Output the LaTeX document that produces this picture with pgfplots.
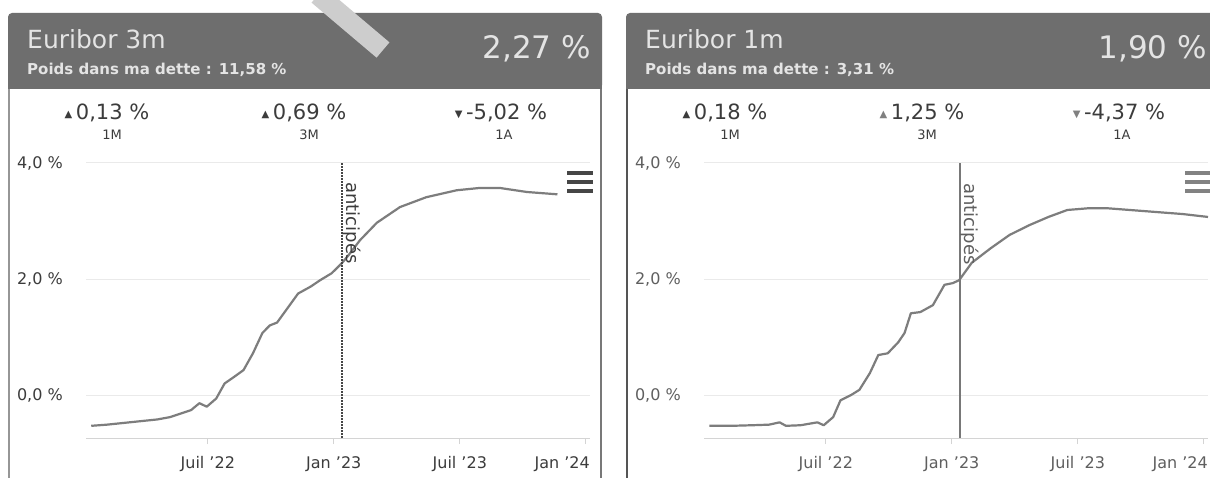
\documentclass[border=0pt]{standalone}
\usepackage{fontspec}
\setmainfont{DejaVu Sans}
\usepackage{pgfplots}
\usepackage{pgfplotstable}
\pgfplotsset{compat=1.18}

\definecolor{hdr}{RGB}{110,110,110}
\definecolor{hdrtxt}{RGB}{228,228,228}
\definecolor{curve}{RGB}{125,125,125}
\definecolor{gridc}{RGB}{234,234,234}
\definecolor{axisc}{RGB}{212,212,212}
\definecolor{txt}{RGB}{60,60,60}
\definecolor{txtb}{RGB}{95,95,95}

\newcommand{\fs}[1]{\fontsize{#1}{#1}\selectfont}

% Euribor 3m, months since 1 Jan 2022
\pgfplotstableread{
m v
0.45 -0.53
1.2 -0.51
2.0 -0.48
2.8 -0.45
3.6 -0.42
4.2 -0.38
4.7 -0.32
5.2 -0.26
5.6 -0.14
5.95 -0.20
6.4 -0.06
6.8 0.20
7.2 0.30
7.7 0.43
8.15 0.72
8.6 1.07
8.95 1.20
9.3 1.25
9.8 1.50
10.3 1.75
10.9 1.87
11.35 1.98
11.9 2.10
12.4 2.28
12.7 2.41
13.25 2.67
14.05 2.97
15.15 3.24
16.4 3.41
17.85 3.53
18.95 3.57
19.9 3.57
21.2 3.50
22.65 3.46
}\eurtrois

% Euribor 1m
\pgfplotstableread{
m v
0.45 -0.53
1.5 -0.53
2.5 -0.52
3.3 -0.51
3.8 -0.47
4.1 -0.53
4.8 -0.52
5.6 -0.47
5.9 -0.52
6.35 -0.38
6.7 -0.09
7.2 0.00
7.6 0.09
8.1 0.38
8.5 0.69
8.95 0.72
9.45 0.91
9.75 1.07
10.05 1.41
10.5 1.43
11.1 1.55
11.65 1.90
12.05 1.93
12.35 1.98
12.95 2.28
13.85 2.53
14.75 2.76
15.7 2.93
16.6 3.07
17.5 3.19
18.5 3.22
19.4 3.22
21.2 3.17
23.0 3.12
24.2 3.07
}\eurun

\pgfplotsset{eur/.style={
  scale only axis, width=504pt, height=275pt, anchor=south west,
  xmin=0.2, xmax=24.2, ymin=-0.74, ymax=4,
  axis x line*=bottom, axis y line*=left,
  x axis line style={draw=axisc, line width=1pt},
  y axis line style={draw=none},
  ymajorgrids, grid style={draw=gridc, line width=1pt},
  ytick={0,2,4}, yticklabels={{0,0 \%},{2,0 \%},{4,0 \%}},
  xtick={6,12,18,24},
  xticklabels={{Juil '22},{Jan '23},{Juil '23},{\makebox[0pt][r]{Jan '24\kern-4pt}}},
  ytick style={draw=none},
  xtick style={draw=axisc, line width=1pt},
  tick align=outside, major tick length=6pt,
  ticklabel style={font=\fs{16}, inner sep=0pt},
  yticklabel style={anchor=east, xshift=-17pt},
  xticklabel style={anchor=north, yshift=-12pt},
  clip=true,
}}

\begin{document}
\begin{tikzpicture}
\useasboundingbox (0pt,0pt) rectangle (1210pt,477pt);
\clip (0pt,0pt) rectangle (1210pt,477pt);
\begin{scope}[x=1pt,y=1pt]
\fill[white] (0,0) rectangle (1210,477);
% cards
\draw[line width=1.5pt, color={rgb,255:red,150;green,150;blue,150}] (9,390) -- (9,-5);
\draw[line width=1.5pt, color={rgb,255:red,120;green,120;blue,120}] (601,390) -- (601,-5);
\draw[line width=2pt, color={rgb,255:red,85;green,85;blue,85}] (627,390) -- (627,-5);
\fill[hdr, rounded corners=4pt] (8,464) rectangle (602,388);
\fill[hdr] (8,400) rectangle (602,388);
\fill[hdr, rounded corners=4pt] (626,464) rectangle (1222,388);
\fill[hdr] (626,400) rectangle (1222,388);
% scan stroke
\draw[line width=20pt, color={rgb,255:red,205;green,205;blue,205}] (318,482) -- (383,427);
\end{scope}

% left chart
\begin{axis}[eur, at={(86pt,39pt)}, ticklabel style={text=txt}]
\addplot[curve, line width=2.2pt, line join=round] table[x=m, y=v] {\eurtrois};
\draw[color={rgb,255:red,70;green,70;blue,70}, line width=2pt, dash pattern=on 2pt off 1pt] (axis cs:12.4,-0.74) -- (axis cs:12.4,4);
\node[rotate=-90, anchor=south west, inner sep=0pt, font=\fs{18}, text=txt, xshift=3pt] at (axis cs:12.4,3.72) {anticipés};
\end{axis}

% right chart
\begin{axis}[eur, at={(704pt,39pt)}, ticklabel style={text=txtb}]
\addplot[curve, line width=2.2pt, line join=round] table[x=m, y=v] {\eurun};
\draw[color={rgb,255:red,120;green,120;blue,120}, line width=1.5pt] (axis cs:12.4,-0.74) -- (axis cs:12.4,4);
\node[rotate=-90, anchor=south west, inner sep=0pt, font=\fs{18}, text=txtb, xshift=4pt] at (axis cs:12.4,3.72) {anticipés};
\end{axis}

\begin{scope}[x=1pt,y=1pt]
% hamburger icons
\foreach \yy in {304,295,286} {
  \draw[line width=3.5pt, color={rgb,255:red,70;green,70;blue,70}] (567,\yy) -- (593,\yy);
  \draw[line width=3.5pt, color={rgb,255:red,130;green,130;blue,130}] (1185,\yy) -- (1211,\yy);
}
% headers
\node[anchor=base west, inner sep=0pt, text=hdrtxt, font=\fs{25}] at (27,428) {Euribor 3m};
\node[anchor=base west, inner sep=0pt, text=hdrtxt, font=\bfseries\fs{15}] at (27,402) {Poids dans ma dette : 11,58 \%};
\node[anchor=base east, inner sep=0pt, text=hdrtxt, font=\fs{31}] at (591,418) {2,27 \%};
\node[anchor=base west, inner sep=0pt, text=hdrtxt, font=\fs{25}] at (645,428) {Euribor 1m};
\node[anchor=base west, inner sep=0pt, text=hdrtxt, font=\bfseries\fs{15}] at (645,402) {Poids dans ma dette : 3,31 \%};
\node[anchor=base east, inner sep=0pt, text=hdrtxt, font=\fs{31}] at (1207,418) {1,90 \%};
% variations
\newcommand{\up}{{\fs{10}\raisebox{2pt}{▲}}\,}
\newcommand{\dn}{{\fs{10}\raisebox{2pt}{▼}}\,}
\node[anchor=base, inner sep=0pt, text=txt, font=\fs{21}] at (107,357) {\up0,13 \%};
\node[anchor=base, inner sep=0pt, text=txt, font=\fs{21}] at (304,357) {\up0,69 \%};
\node[anchor=base, inner sep=0pt, text=txt, font=\fs{21}] at (501,357) {\dn-5,02 \%};
\node[anchor=base, inner sep=0pt, text=txt, font=\fs{13}] at (112,337) {1M};
\node[anchor=base, inner sep=0pt, text=txt, font=\fs{13}] at (309,337) {3M};
\node[anchor=base, inner sep=0pt, text=txt, font=\fs{13}] at (504,337) {1A};
\node[anchor=base, inner sep=0pt, text=txt, font=\fs{21}] at (725,357) {\up0,18 \%};
\node[anchor=base, inner sep=0pt, text=txt, font=\fs{21}] at (922,357) {{\color{gray}\up}1,25 \%};
\node[anchor=base, inner sep=0pt, text=txt, font=\fs{21}] at (1119,357) {{\color{gray}\dn}-4,37 \%};
\node[anchor=base, inner sep=0pt, text=txt, font=\fs{13}] at (730,337) {1M};
\node[anchor=base, inner sep=0pt, text=txt, font=\fs{13}] at (927,337) {3M};
\node[anchor=base, inner sep=0pt, text=txt, font=\fs{13}] at (1122,337) {1A};
\end{scope}
\end{tikzpicture}
\end{document}
